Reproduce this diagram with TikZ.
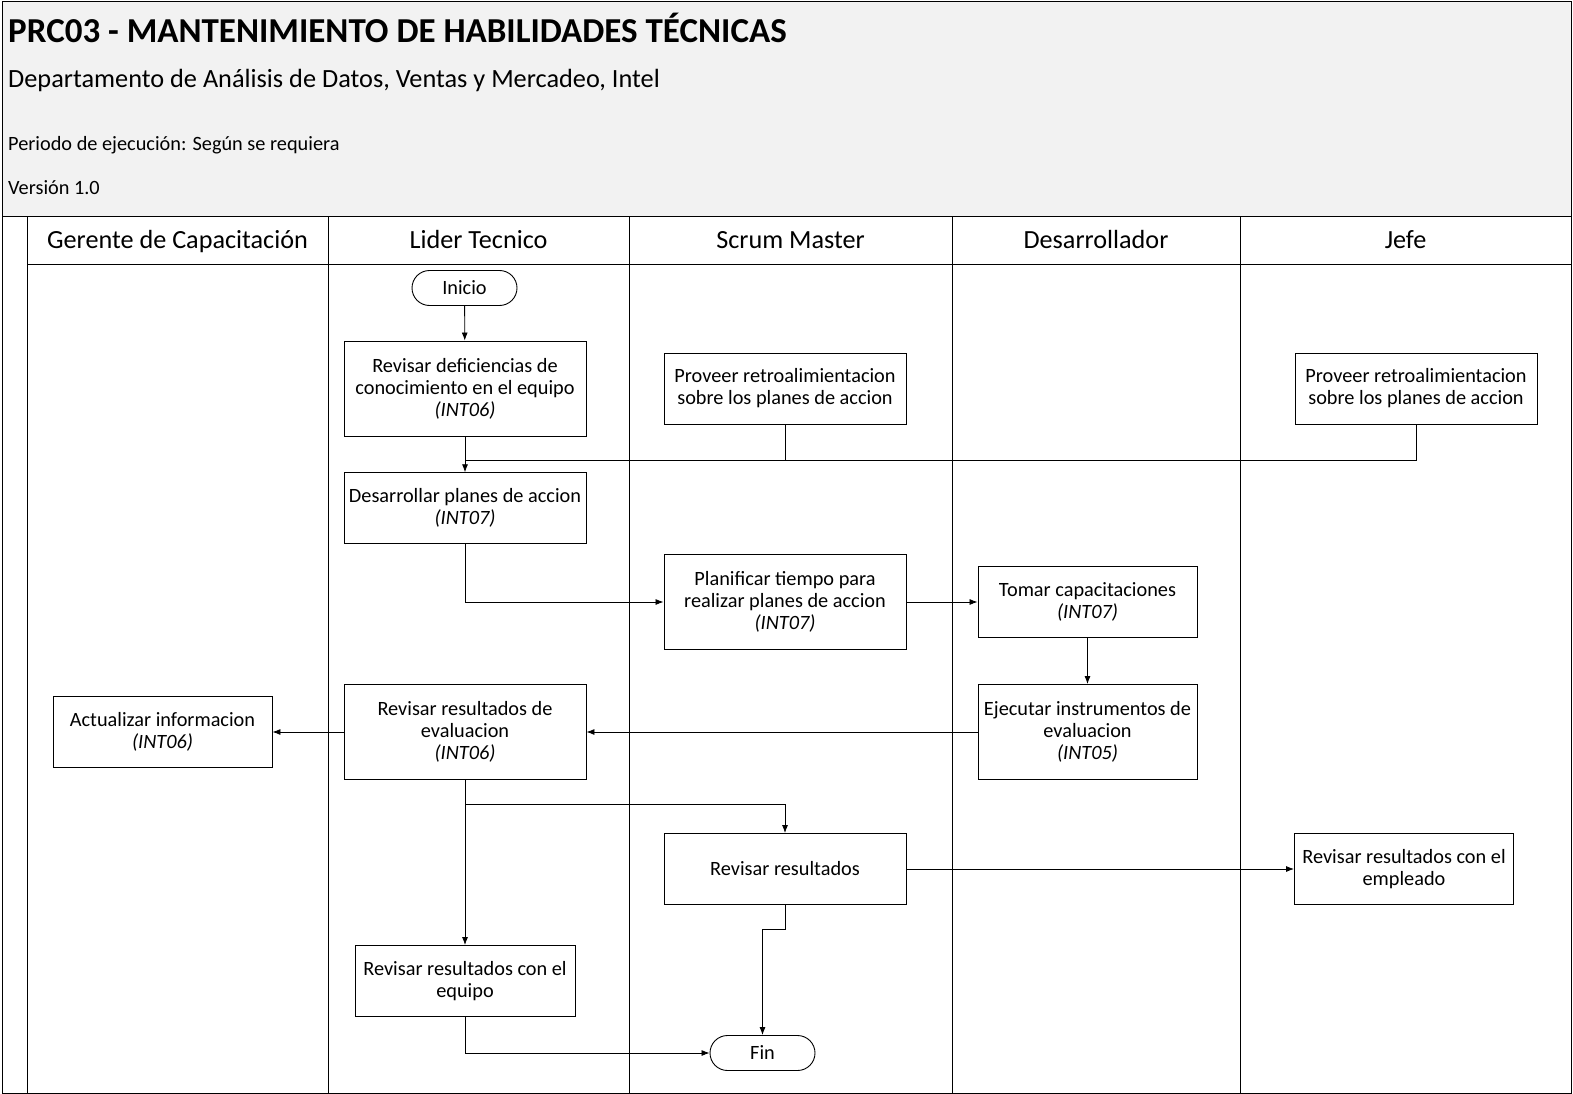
\documentclass[tikz,border=0pt]{standalone}
\usepackage{fontspec}
\setmainfont{Carlito}
\usetikzlibrary{arrows.meta,shapes.misc}
\begin{document}
\begin{tikzpicture}[x=1pt,y=-1pt,
  box/.style={draw,line width=0.9pt,align=center,inner sep=0pt,font=\fontsize{20.3}{22}\selectfont},
  term/.style={draw,line width=0.9pt,rounded rectangle,minimum width=105pt,minimum height=35pt,inner sep=0pt,font=\fontsize{20.3}{22}\selectfont},
  conn/.style={line width=0.8pt,-{Latex[length=8pt,width=6pt]}},
  line/.style={line width=0.8pt},
  lanehead/.style={font=\fontsize{26.2}{30}\selectfont,anchor=base,inner sep=0pt},
  frame/.style={line width=1pt}]
\useasboundingbox (0,0) rectangle (1573,1094);
% header block
\fill[gray!10] (2,2) rectangle (1571,216);
\draw[frame] (2,2) rectangle (1571,1093);
\draw[frame] (2,216) -- (1571,216);
\node[anchor=base west,inner sep=0pt,font=\bfseries\fontsize{35}{40}\selectfont] (title) at (8,43) {PRC03 - MANTENIMIENTO DE HABILIDADES TÉCNICAS};
\node[anchor=base west,inner sep=0pt,font=\fontsize{26.3}{30}\selectfont] (sub) at (8,88) {Departamento de Análisis de Datos, Ventas y Mercadeo, Intel};
\node[anchor=base west,inner sep=0pt,font=\fontsize{20.3}{24}\selectfont] (per) at (8,151) {Periodo de ejecución: Según se requiera};
\node[anchor=base west,inner sep=0pt,font=\fontsize{20.3}{24}\selectfont] (ver) at (8,195) {Versión 1.0};
% lanes
\draw[frame] (27,216) -- (27,1093);
\draw[frame] (328,216) -- (328,1093);
\draw[frame] (629,216) -- (629,1093);
\draw[frame] (952,216) -- (952,1093);
\draw[frame] (1240,216) -- (1240,1093);
\draw[frame] (27,264) -- (1571,264);
\node[lanehead] (h1) at (177.5,248) {Gerente de Capacitación};
\node[lanehead] (h2) at (478.5,248) {Lider Tecnico};
\node[lanehead] (h3) at (790.5,248) {Scrum Master};
\node[lanehead] (h4) at (1096,248) {Desarrollador};
\node[lanehead] (h5) at (1405.5,248) {Jefe};
% nodes
\node[term] (inicio) at (464.5,288) {Inicio};
\node[box,minimum width=242pt,minimum height=95pt] (rdef) at (465,388.5) {Revisar deficiencias de\\conocimiento en el equipo\\\textit{(INT06)}};
\node[box,minimum width=242pt,minimum height=71pt] (psm) at (785,388.5) {Proveer retroalimientacion\\sobre los planes de accion};
\node[box,minimum width=242pt,minimum height=71pt] (pj) at (1416,388.5) {Proveer retroalimientacion\\sobre los planes de accion};
\coordinate (j) at (465,460.5);
\node[box,minimum width=242pt,minimum height=70.5pt] (dpa) at (465,508) {Desarrollar planes de accion\\\textit{(INT07)}};
\node[box,minimum width=242pt,minimum height=95pt] (plan) at (785,602) {Planificar tiempo para\\realizar planes de accion\\\textit{(INT07)}};
\node[box,minimum width=219pt,minimum height=71pt] (tomar) at (1087.5,602) {Tomar capacitaciones\\\textit{(INT07)}};
\node[box,minimum width=219pt,minimum height=95pt] (ejec) at (1087.5,732) {Ejecutar instrumentos de\\evaluacion\\\textit{(INT05)}};
\node[box,minimum width=242pt,minimum height=95pt] (rre) at (465,732) {Revisar resultados de\\evaluacion\\\textit{(INT06)}};
\node[box,minimum width=219pt,minimum height=71pt] (act) at (162.5,732) {Actualizar informacion\\\textit{(INT06)}};
\node[box,minimum width=242pt,minimum height=71pt] (rr) at (785,869) {Revisar resultados};
\node[box,minimum width=220pt,minimum height=71pt] (req) at (465,981) {Revisar resultados con el\\equipo};
\node[box,minimum width=219pt,minimum height=71pt] (remp) at (1404,869) {Revisar resultados con el\\empleado};
\node[term] (fin) at (762.5,1053) {Fin};
\coordinate (k1) at (465,804.5);
\coordinate (k2) at (762.5,929);
% connectors
\draw[conn] (inicio) -- (rdef);
\draw[conn] (rdef) -- (dpa);
\draw[line] (psm.south) |- (j);
\draw[line] (pj.south) |- (j);
\draw[conn] (dpa.south) |- (plan.west);
\draw[conn] (plan) -- (tomar);
\draw[conn] (tomar) -- (ejec);
\draw[conn] (ejec) -- (rre);
\draw[conn] (rre) -- (act);
\draw[conn] (k1) -| (rr.north);
\draw[conn] (rre) -- (req);
\draw[conn] (rr) -- (remp);
\draw[line] (rr.south) |- (k2);
\draw[conn] (k2) -- (fin);
\draw[conn] (req.south) |- (fin.west);
\end{tikzpicture}
\end{document}
